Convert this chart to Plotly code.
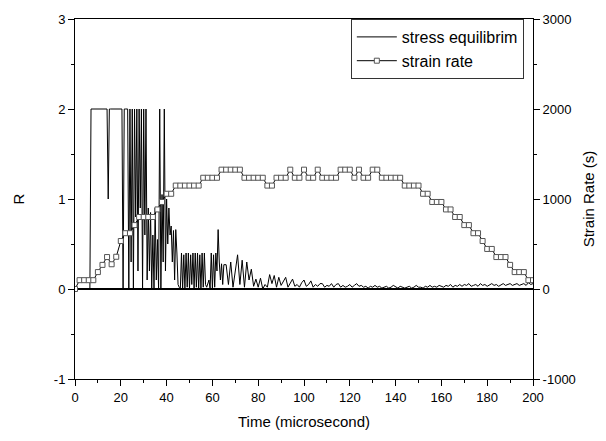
import plotly.graph_objects as go

# ---- stress equilibrium R (fine sampling 0-65 us every 0.5 us, then 1 us) ----
time_stress_fine = [i * 0.5 for i in range(131)]
r_stress_fine = [
    0, 0, 0, 0, 0, 0, 0, 0, 0, 0, 0, 0, 0, 0,
    2, 2, 2, 2, 2, 2, 2, 2, 2, 2, 2, 2, 2, 2, 2, 1.0,
    2, 2, 2, 2, 2, 2, 2, 2, 2, 2, 2, 2,
    0, 2, 2, 2, 2, 0, 2, 0.3, 2, 0, 2, 0.8, 2, 0.2, 2, 0.9, 2, 0, 2, 0.6, 2, 0.1,
    0.9, 0.2, 0.85, 0, 0.6, 0, 0.9, 0.1, 0.55, 0, 2, 0, 1.05, 0.3, 2, 0.2,
    1.0, 0.5, 0.9, 0.6, 0.7, 0.3, 0.65, 0.1, 0.66, 0.4, 0.05, 0.02,
    0, 0.4, 0, 0.38, 0, 0.4, 0.02, 0.4, 0, 0.38, 0.05, 0.4, 0, 0.4, 0.02, 0.4,
    0, 0.38, 0, 0.4, 0.02, 0.4, 0.05, 0.02, 0.05, 0.1, 0, 0.4, 0, 0.38, 0.02, 0.4,
    0.2, 0.66, 0.3, 0.1, 0.28, 0.05, 0.27,
]
time_stress_coarse = list(range(66, 201))
r_stress_coarse = [
    0.27, 0.05, 0.3, 0.02, 0.2, 0.38, 0.05, 0.32, 0.02, 0.3,
    0.1, 0.22, 0.03, 0.11, 0.02, 0.12, 0.0, 0.05, 0.02, 0.16,
    0.06, 0.15, 0.02, 0.13, 0.04, 0.08, 0.13, 0.02, 0.06, 0.11,
    0.03, 0.05, 0.02, 0.07, 0.1, 0.03, 0.05, 0.09, 0.02, 0.05,
    0.03, 0.06, 0.06, 0.02, 0.04, 0.03, 0.06, 0.02, 0.05, 0.06,
    0.02, 0.04, 0.02, 0.03, 0.05, 0.02, 0.04, 0.06, 0.03, 0.04,
    0.02, 0.03, 0.01, 0.03, 0.02, 0.04, 0.02, 0.03, 0.01, 0.02,
    0.03, 0.01, 0.02, 0.04, 0.02, 0.01, 0.03, 0.02, 0.01, 0.02,
    0.03, 0.01, 0.02, 0.04, 0.02, 0.02, 0.01, 0.03, 0.02, 0.04,
    0.02, 0.03, 0.02, 0.04, 0.03, 0.02, 0.04, 0.03, 0.05, 0.02,
    0.04, 0.03, 0.05, 0.03, 0.05, 0.04, 0.06, 0.03, 0.04, 0.05,
    0.03, 0.06, 0.04, 0.05, 0.03, 0.05, 0.06, 0.04, 0.05, 0.03,
    0.05, 0.06, 0.04, 0.05, 0.06, 0.04, 0.05, 0.06, 0.04, 0.05,
    0.06, 0.04, 0.07, 0.05, 0.06,
]
time_stress = time_stress_fine + time_stress_coarse
r_stress = r_stress_fine + r_stress_coarse

# ---- strain rate (every 2 us) ----
time_strain = list(range(0, 201, 2))
strain_rate = [
    0, 98, 98, 98, 98, 188, 268, 355, 275, 358,
    533, 620, 620, 710, 800, 800, 800, 800, 884, 967,
    1058, 1058, 1149, 1149, 1149, 1149, 1149, 1149, 1236, 1236,
    1236, 1236, 1326, 1326, 1326, 1326, 1326, 1236, 1236, 1236,
    1236, 1236, 1149, 1149, 1236, 1236, 1236, 1326, 1236, 1236,
    1326, 1236, 1236, 1326, 1236, 1236, 1236, 1236, 1326, 1326,
    1326, 1236, 1326, 1236, 1236, 1326, 1326, 1236, 1236, 1236,
    1236, 1236, 1149, 1149, 1149, 1149, 1058, 1058, 967, 967,
    967, 884, 884, 800, 800, 710, 710, 620, 620, 533,
    445, 445, 355, 355, 355, 268, 188, 188, 188, 98,
    98,
]

# ---- tick labels ----
x_ticks = [0, 20, 40, 60, 80, 100, 120, 140, 160, 180, 200]
r_ticks = [-1, 0, 1, 2, 3]
r_tick_text = ["-1", "0", "1", "2", "3"]
sr_ticks = [-1000, 0, 1000, 2000, 3000]
sr_tick_text = ["-1000", "0", "1000", "2000", "3000"]

FONT = "Arial, Liberation Sans, sans-serif"

fig = go.Figure()
fig.add_trace(go.Scatter(
    x=time_stress, y=r_stress, name="stress equilibrim", mode="lines",
    line=dict(color="black", width=1), yaxis="y",
))
fig.add_trace(go.Scatter(
    x=time_strain, y=strain_rate, name="strain rate", mode="lines+markers",
    line=dict(color="black", width=1),
    marker=dict(symbol="square", size=5, color="white",
                line=dict(color="#555555", width=1)),
    yaxis="y2",
))

axis_common = dict(
    showline=True, linecolor="black", linewidth=1, showgrid=False,
    ticks="outside", ticklen=6, tickwidth=1, tickcolor="black",
    tickfont=dict(family=FONT, size=13, color="black"),
)

fig.update_layout(
    width=606, height=441,
    margin=dict(l=75, r=73, t=13, b=62),
    paper_bgcolor="white", plot_bgcolor="white",
    font=dict(family=FONT, color="black"),
    xaxis=dict(
        range=[0, 200], tickvals=x_ticks, mirror=True, zeroline=False,
        minor=dict(dtick=10, tick0=0, ticklen=3, ticks="outside", tickcolor="black"),
        title=dict(text="Time (microsecond)", font=dict(family=FONT, size=15), standoff=12),
        **axis_common,
    ),
    yaxis=dict(
        range=[-1, 3], tickvals=r_ticks, ticktext=r_tick_text,
        zeroline=True, zerolinecolor="black", zerolinewidth=1.6,
        minor=dict(dtick=0.5, tick0=0, ticklen=3, ticks="outside", tickcolor="black"),
        title=dict(text="R", font=dict(family=FONT, size=15), standoff=25),
        **axis_common,
    ),
    yaxis2=dict(
        range=[-1000, 3000], tickvals=sr_ticks, ticktext=sr_tick_text,
        overlaying="y", side="right", zeroline=False,
        minor=dict(dtick=500, tick0=0, ticklen=3, ticks="outside", tickcolor="black"),
        title=dict(text="Strain Rate (s)", font=dict(family=FONT, size=15), standoff=8),
        **axis_common,
    ),
    legend=dict(
        x=0.98, y=1.0, xanchor="right", yanchor="top",
        bgcolor="white", bordercolor="#333333", borderwidth=1,
        font=dict(family=FONT, size=16, color="black"),
        itemwidth=40, tracegroupgap=0,
    ),
    showlegend=True,
)

fig.write_html("out.html")
